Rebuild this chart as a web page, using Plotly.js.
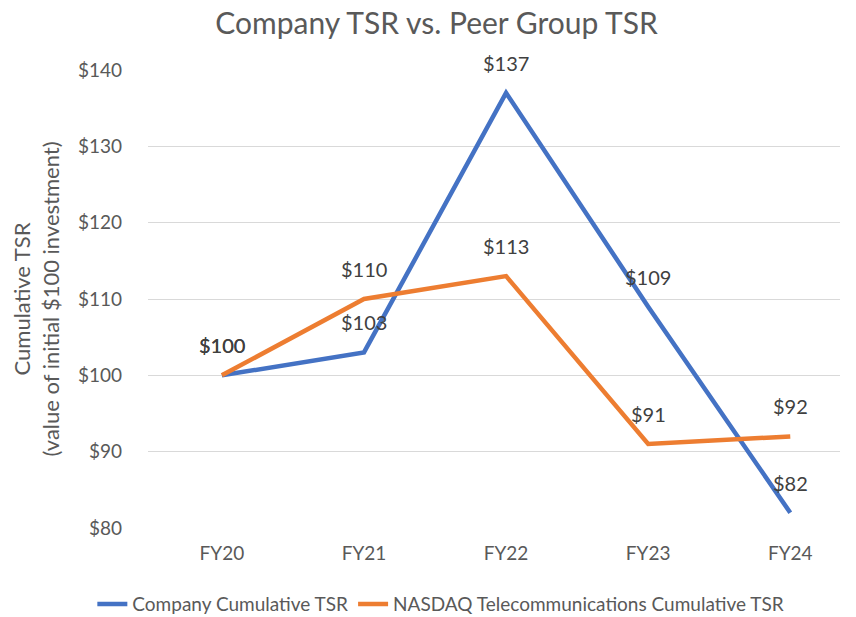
<!DOCTYPE html>
<html>
<head>
<meta charset="utf-8">
<script src="https://cdn.plot.ly/plotly-3.0.1.min.js"></script>
<style>html,body{margin:0;padding:0;background:#fff;}#chart{width:856px;height:617px;}</style>
</head>
<body>
<div id="chart"></div>
<script>
const categories = ["FY20", "FY21", "FY22", "FY23", "FY24"];
const companyTSR = [100, 103, 137, 109, 82];
const peerTSR = [100, 110, 113, 91, 92];
const seriesNames = ["Company Cumulative TSR", "NASDAQ Telecommunications Cumulative TSR"];
const yTickVals = [80, 90, 100, 110, 120, 130, 140];
const yTickText = yTickVals.map(v => "$" + v);

const FONT = "Lato, 'Open Sans', sans-serif";
const GREY = "#595959";

const traces = [
  {x: categories, y: companyTSR, name: seriesNames[0], type: "scatter", mode: "lines",
   line: {color: "#4472C4", width: 4.5}},
  {x: categories, y: peerTSR, name: seriesNames[1], type: "scatter", mode: "lines",
   line: {color: "#ED7D31", width: 4.5}}
];

const annotations = [];
[companyTSR, peerTSR].forEach(arr => {
  arr.forEach((v, i) => {
    annotations.push({x: categories[i], y: v, text: "$" + v, showarrow: false,
      yshift: 30, font: {family: FONT, size: 20, color: "#404040"}});
  });
});

const layout = {
  width: 856, height: 617,
  margin: {l: 148, r: 16, t: 70, b: 89},
  paper_bgcolor: "#fff", plot_bgcolor: "#fff",
  title: {text: "Company TSR vs. Peer Group TSR", x: 0.51, xanchor: "center", y: 0.962, yanchor: "middle",
    font: {family: FONT, size: 30, color: GREY}},
  xaxis: {type: "category", range: [-0.52, 4.35], showgrid: false, zeroline: false, showline: false,
    ticks: "", tickfont: {family: FONT, size: 19, color: GREY}, ticklabelstandoff: 12},
  yaxis: {range: [80, 140], tickvals: yTickVals, ticktext: yTickText, showgrid: true, gridcolor: "#d9d9d9",
    gridwidth: 1, zeroline: false, showline: false, ticks: "", automargin: false,
    tickfont: {family: FONT, size: 19, color: GREY}, ticklabelstandoff: 25,
    title: {text: "Cumulative TSR<br>(value of initial $100 investment)", standoff: 12,
      font: {family: FONT, size: 22, color: GREY}}},
  showlegend: true,
  legend: {orientation: "h", x: 0.515, xanchor: "center", xref: "container", y: 0.021, yanchor: "middle", yref: "container",
    font: {family: FONT, size: 19, color: GREY}, traceorder: "normal"},
  annotations: annotations
};

Plotly.newPlot("chart", traces, layout, {displayModeBar: false, staticPlot: true});
</script>
</body>
</html>
